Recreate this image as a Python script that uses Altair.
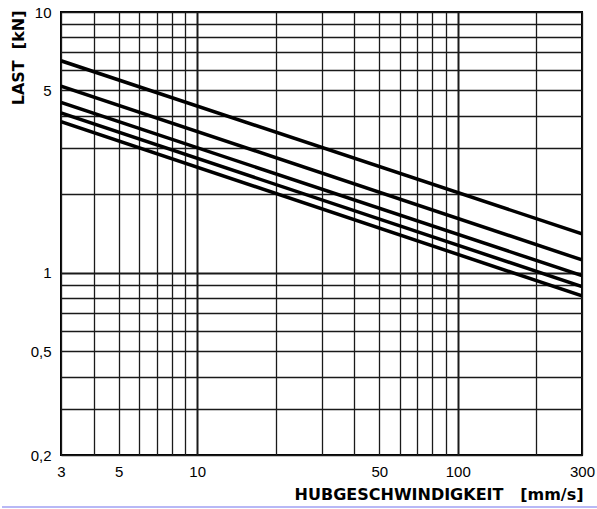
import altair as alt
import pandas as pd

# Load curves: lifting speed [mm/s] vs. permissible load [kN], straight in log-log
speed = [3, 300]
curve_a = [6.5, 1.41]
curve_b = [5.2, 1.12]
curve_c = [4.5, 0.975]
curve_d = [4.1, 0.885]
curve_e = [3.8, 0.815]

x_grid = [3, 4, 5, 6, 7, 8, 9, 10, 20, 30, 40, 50, 60, 70, 80, 90, 100, 200, 300]
y_grid = [0.2, 0.3, 0.4, 0.5, 0.6, 0.7, 0.8, 0.9, 1, 2, 3, 4, 5, 6, 7, 8, 9, 10]
x_labels = [3, 5, 10, 50, 100, 300]
y_labels = [0.2, 0.5, 1, 5, 10]

rows = []
for name, vals in [("a", curve_a), ("b", curve_b), ("c", curve_c), ("d", curve_d), ("e", curve_e)]:
    for s, v in zip(speed, vals):
        rows.append({"curve": name, "speed": s, "load": v})
df = pd.DataFrame(rows)

FONT = "Liberation Sans"
TITLE_FONT = "DejaVu Sans"
W, H = 521, 443

x_label_test = "indexof(" + str(x_labels) + ", datum.value) >= 0"
y_label_test = "indexof(" + str(y_labels) + ", datum.value) >= 0"

lines = alt.Chart(df).mark_line(color="black", strokeWidth=3.5, clip=True).encode(
    x=alt.X(
        "speed:Q",
        scale=alt.Scale(type="log", domain=[3, 300], nice=False),
        axis=alt.Axis(
            values=x_grid,
            grid=True,
            gridColor="#1a1a1a",
            gridWidth={"condition": {"test": "datum.value == 10 || datum.value == 100", "value": 2}, "value": 1.3},
            gridOpacity=1,
            domain=False,
            ticks=False,
            labelExpr=x_label_test + " ? format(datum.value, '~g') : ''",
            labelFont=FONT,
            labelFontSize=15,
            labelColor="black",
            labelPadding=9,
            labelFlush=False,
            labelOverlap=False,
            title="HUBGESCHWINDIGKEIT\u00a0\u00a0\u00a0[mm/s]",
            titleFont=TITLE_FONT,
            titleFontSize=16,
            titleFontWeight="bold",
            titleColor="black",
            titleAlign="right",
            titleBaseline="middle",
            titleAnchor="end",
            titleX=W + 1,
            titleY=39,
        ),
    ),
    y=alt.Y(
        "load:Q",
        scale=alt.Scale(type="log", domain=[0.2, 10], nice=False),
        axis=alt.Axis(
            values=y_grid,
            grid=True,
            gridColor="#1a1a1a",
            gridWidth={"condition": {"test": "datum.value == 1", "value": 2}, "value": 1.3},
            gridOpacity=1,
            domain=False,
            ticks=False,
            labelExpr=y_label_test + " ? replace(format(datum.value, '~g'), '.', ',') : ''",
            labelFont=FONT,
            labelFontSize=15,
            labelColor="black",
            labelPadding=10,
            labelFlush=False,
            labelOverlap=False,
            title="LAST\u00a0\u00a0[kN]",
            titleFont=TITLE_FONT,
            titleFontSize=16,
            titleFontWeight="bold",
            titleColor="black",
            titleAngle=270,
            titleAlign="right",
            titleBaseline="middle",
            titleX=-43,
            titleY=-2,
        ),
    ),
    detail="curve:N",
)

# thin blue separator below the chart
separator = alt.Chart(pd.DataFrame({"k": [0]})).mark_rule(color="#b8b8f6", strokeWidth=2).encode(
    x=alt.value(-59), x2=alt.value(536), y=alt.value(495)
)

chart = (
    alt.layer(lines, separator)
    .properties(
        width=W,
        height=H,
        autosize=alt.AutoSizeParams(type="none"),
        padding={"left": 61, "top": 12, "right": 15, "bottom": 54},
        background="white",
    )
    .configure_view(stroke="black", strokeWidth=2)
)

chart.save("out.html", embed_options={"renderer": "svg", "actions": False})
